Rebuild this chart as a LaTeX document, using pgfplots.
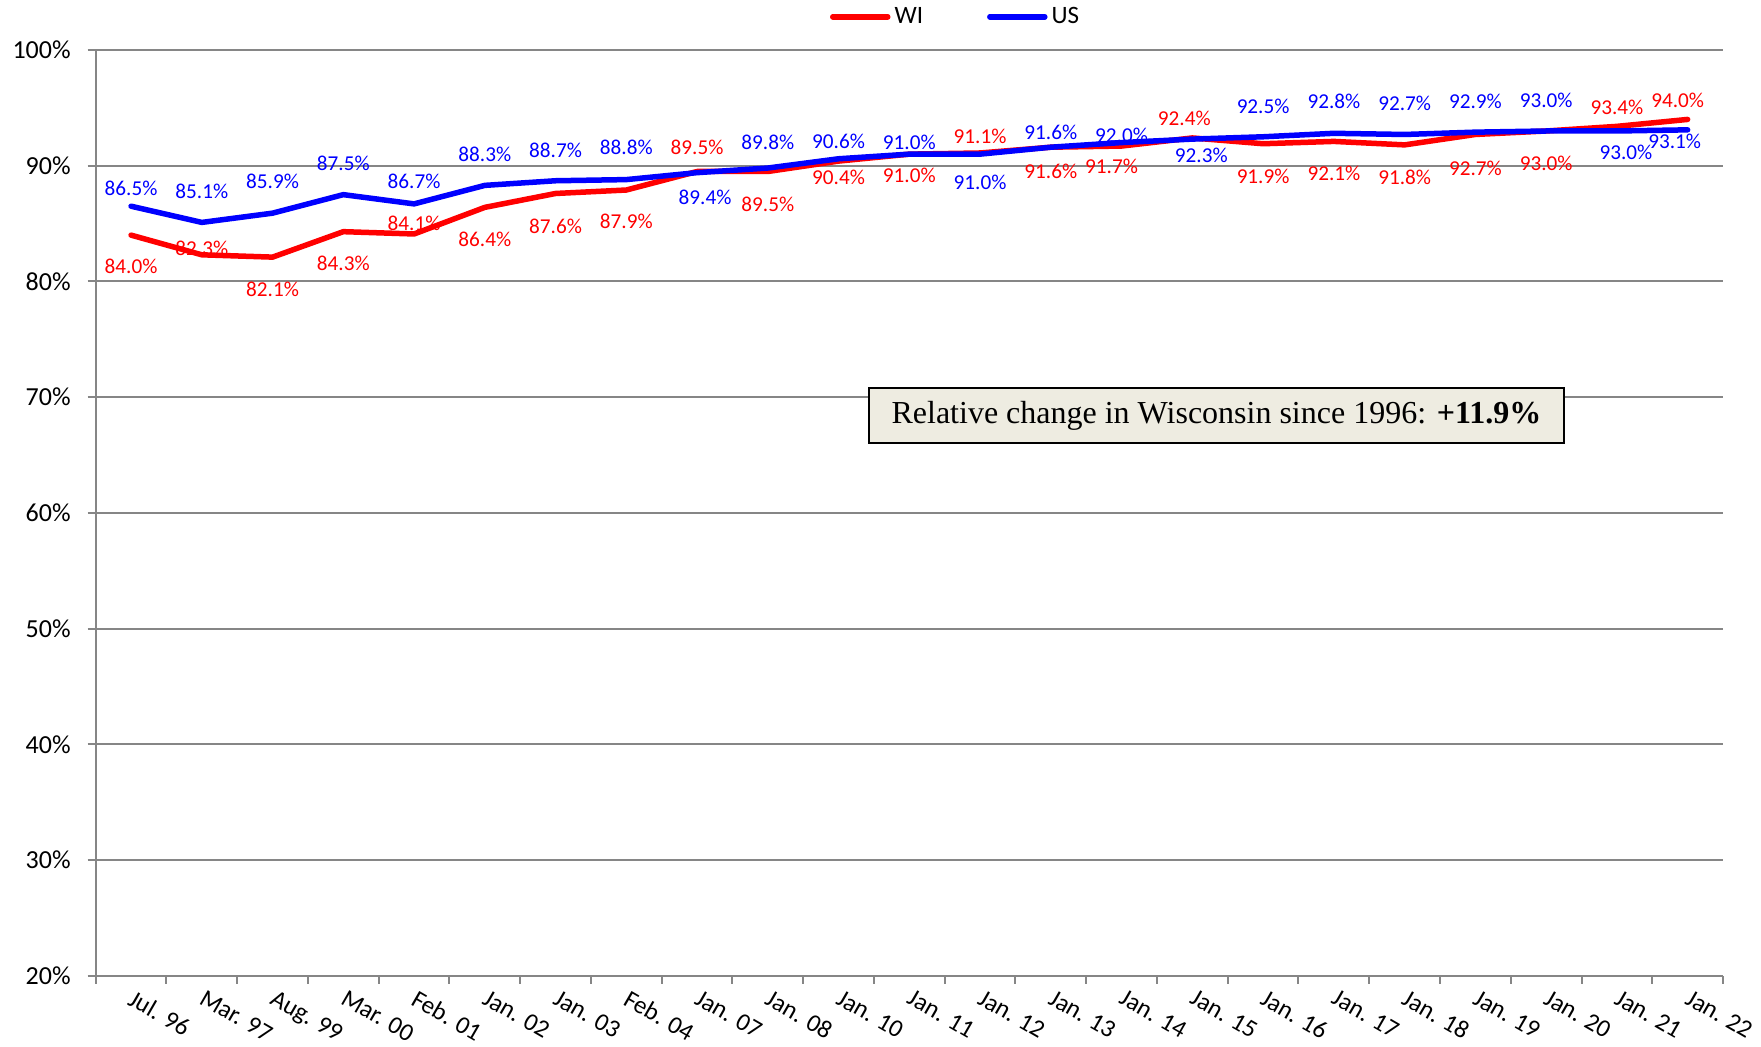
\documentclass[border=0pt]{standalone}
\usepackage{pgfplots}
\pgfplotsset{compat=1.18}
\usepackage{pgfplotstable}
\usepackage{fontspec}
\setmainfont{Carlito}
\newfontfamily\timesfont{Liberation Serif}
\definecolor{gridgray}{HTML}{868686}
\definecolor{boxfill}{HTML}{EEECE1}
\definecolor{wired}{HTML}{FF0000}
\definecolor{usblue}{HTML}{0000FF}

\pgfplotstableread{
x  wi    wo     wx    us    uo     ux
0  84.0  -15.8  0     86.5   9.0   0
1  82.3    3.0  0     85.1  15.4   0
2  82.1  -16.1  0     85.9  15.8   0
3  84.3  -15.9  0     87.5  15.6   0
4  84.1    5.5  0     86.7  11.2   0
5  86.4  -16.2  0     88.3  15.4   0
6  87.6  -16.5  0     88.7  15.4   0
7  87.9  -15.9  0     88.8  15.9   0
8  89.5   11.9  0     89.4 -12.2   4
9  89.5  -16.2  0     89.8  13.0   0
10 90.4   -7.9  0     90.6   8.9   0
11 91.0  -10.8  0     91.0   6.0   0
12 91.1    8.3  0     91.0 -14.2   0
13 91.6  -12.1  0     91.6   7.6   0
14 91.7  -10.4  -5    92.0   3.6   0
15 92.4    9.7  -4    92.3  -8.3   4.5
16 91.9  -16.1  0     92.5  15.3   0
17 92.1  -16.1  0     92.8  15.8   0
18 91.8  -16.0  0     92.7  15.8   0
19 92.7  -16.7  0     92.9  15.2   0
20 93.0  -16.2  0     93.0  15.2   0
21 93.4    9.5  0     93.0 -10.6   4.5
22 94.0    9.4  -5    93.1  -5.6  -6.5
}\data

\begin{document}
\begin{tikzpicture}
\begin{axis}[
  name=ax,
  scale only axis,
  width=813.65pt, height=462.85pt,
  xmin=-0.5, xmax=22.5, ymin=20, ymax=100,
  axis x line*=bottom, axis y line*=left,
  axis line style={gridgray, line width=1pt},
  ymajorgrids, grid style={gridgray, line width=1pt},
  tick align=outside, major tick length=4pt,
  major tick style={gridgray, line width=1pt},
  xtick={-0.5,0.5,1.5,2.5,3.5,4.5,5.5,6.5,7.5,8.5,9.5,10.5,11.5,12.5,13.5,14.5,15.5,16.5,17.5,18.5,19.5,20.5,21.5,22.5},
  x tick label as interval,
  xticklabels={Jul. 96,Mar. 97,Aug. 99,Mar. 00,Feb. 01,Jan. 02,Jan. 03,Feb. 04,Jan. 07,Jan. 08,Jan. 10,Jan. 11,Jan. 12,Jan. 13,Jan. 14,Jan. 15,Jan. 16,Jan. 17,Jan. 18,Jan. 19,Jan. 20,Jan. 21,Jan. 22},
  xticklabel style={rotate=-30, anchor=north west, font=\fontsize{12.5}{15}\selectfont, inner sep=1pt, text=black, xshift=2pt},
  ytick={20,30,40,50,60,70,80,90,100},
  yticklabels={20\%,30\%,40\%,50\%,60\%,70\%,80\%,90\%,100\%},
  yticklabel style={font=\fontsize{13}{15}\selectfont, text=black, xshift=-5pt},
  clip=false,
  legend style={draw=none, fill=none, at={(0.529,1)}, anchor=center, yshift=16.6pt,
    font=\fontsize{12.5}{15}\selectfont, inner sep=0pt,
    /tikz/every even column/.append style={column sep=30pt}},
  legend columns=2,
  legend image code/.code={\draw[#1, line cap=round] (0pt,0pt) -- (27.5pt,0pt);},
]
% data labels (drawn first, lines over them)
\addplot[draw=none, mark=none, forget plot,
  visualization depends on={\thisrow{wo} \as \wo},
  visualization depends on={\thisrow{wx} \as \wx},
  point meta=y,
  nodes near coords={\pgfmathprintnumber[fixed,fixed zerofill,precision=1,assume math mode=true]{\pgfplotspointmeta}\%},
  every node near coord/.style={anchor=center, yshift=\wo, xshift=\wx, text=wired, font=\fontsize{10.6}{12}\selectfont, inner sep=0pt}]
  table[x=x, y=wi] {\data};
\addplot[draw=none, mark=none, forget plot,
  visualization depends on={\thisrow{uo} \as \uo},
  visualization depends on={\thisrow{ux} \as \ux},
  point meta=y,
  nodes near coords={\pgfmathprintnumber[fixed,fixed zerofill,precision=1,assume math mode=true]{\pgfplotspointmeta}\%},
  every node near coord/.style={anchor=center, yshift=\uo, xshift=\ux, text=usblue, font=\fontsize{10.6}{12}\selectfont, inner sep=0pt}]
  table[x=x, y=us] {\data};
% lines
\addplot[wired, line width=2.75pt, mark=none, line join=round, line cap=round] table[x=x, y=wi] {\data};
\addlegendentry{WI}
\addplot[usblue, line width=2.75pt, mark=none, line join=round, line cap=round] table[x=x, y=us] {\data};
\addlegendentry{US}
% annotation box
\node[draw=black, line width=0.9pt, fill=boxfill, minimum width=347.5pt, minimum height=27.5pt,
  inner sep=0pt, font=\timesfont\fontsize{16}{19}\selectfont]
  at (axis cs:15.34,68.4) {Relative change in Wisconsin since 1996: \textbf{+11.9\%}};
\end{axis}
\pgfresetboundingbox
\path (ax.south west) ++(-47.85pt,-35.65pt) rectangle ++(880.5pt,523.5pt);
\end{tikzpicture}
\end{document}
